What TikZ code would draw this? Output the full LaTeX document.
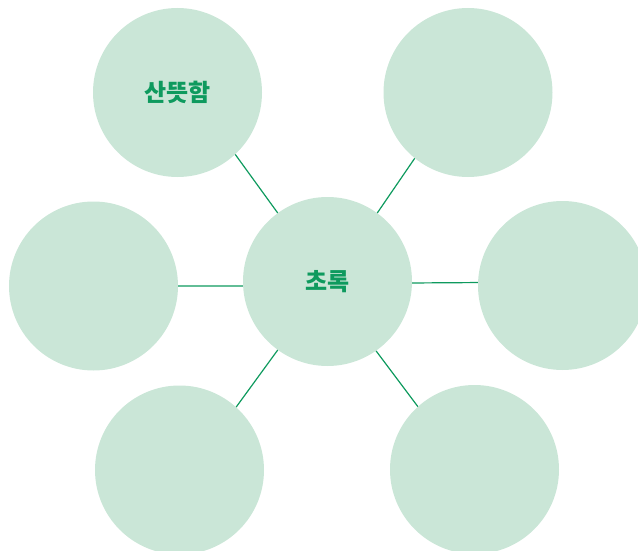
\documentclass[tikz,border=0pt]{standalone}
\usepackage{fontspec}
\newfontfamily\kr{Noto Sans CJK KR}
\definecolor{cfill}{HTML}{CAE6D7}
\definecolor{cgreen}{HTML}{0E9A5E}
\begin{document}
\begin{tikzpicture}[x=1pt,y=-1pt,
  bubble/.style={circle,fill=cfill,minimum size=169pt,inner sep=0pt,
    font=\kr\bfseries\fontsize{24}{28}\selectfont,text=cgreen},
  link/.style={draw=cgreen,line width=1.2pt}]
\useasboundingbox (0,0) rectangle (638,551);
\node[bubble] (c)  at (327.5,281.5) {초록};
\node[bubble] (tl) at (177.5,92.5) {산뜻함};
\node[bubble] (tr) at (468,92.5) {};
\node[bubble] (l)  at (93.5,286) {};
\node[bubble] (r)  at (562.5,285.5) {};
\node[bubble] (bl) at (179.5,470) {};
\node[bubble] (br) at (474.5,469.5) {};
\draw[link] (c.126) -- (tl.313);
\draw[link] (c.54) -- (tr.231);
\draw[link] (c.183.5) -- (l.-0.7);
\draw[link] (c.-1.9) -- (r.178.8);
\draw[link] (c.234) -- (bl.48);
\draw[link] (c.305) -- (br.132);
\end{tikzpicture}
\end{document}
